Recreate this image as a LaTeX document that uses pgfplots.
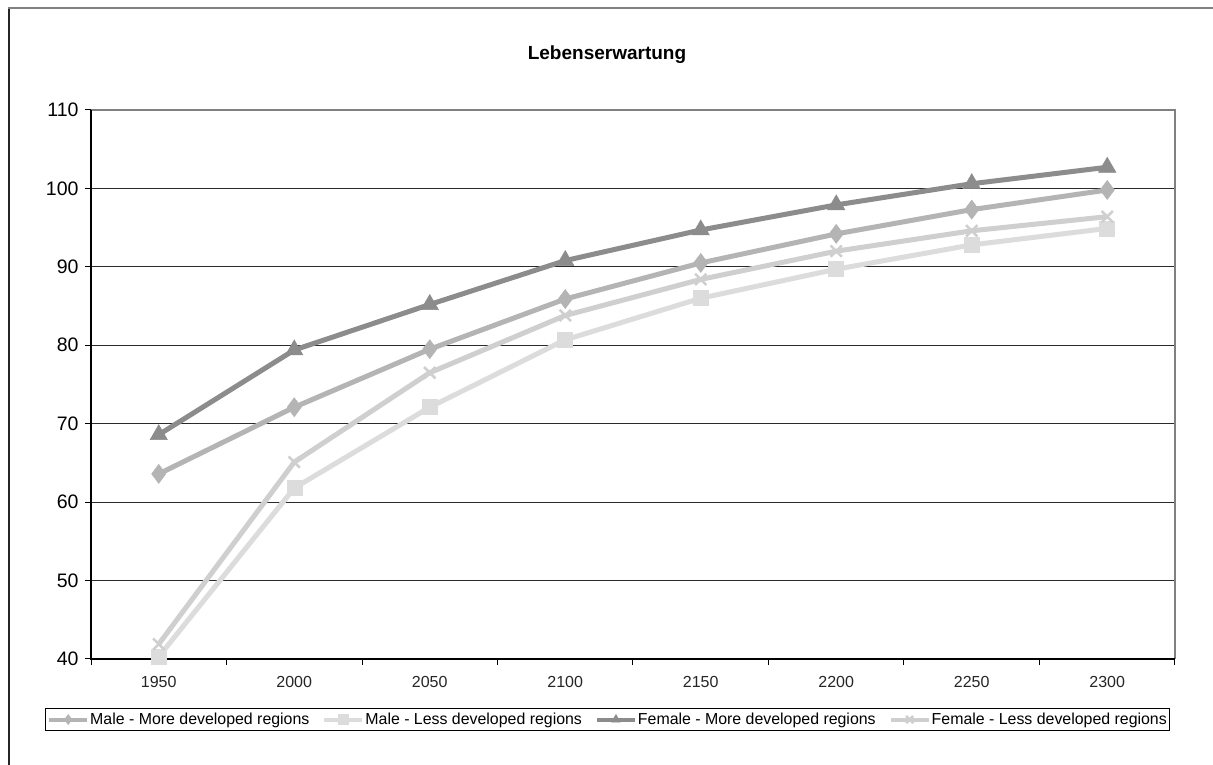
\documentclass[border=0pt]{standalone}
\usepackage{pgfplots}
\pgfplotsset{compat=1.18}
\usepackage{fontspec}
\setmainfont{Liberation Sans}
\definecolor{cFM}{HTML}{8C8C8C}
\definecolor{cMM}{HTML}{B4B4B4}
\definecolor{cFL}{HTML}{CFCFCF}
\definecolor{cML}{HTML}{DCDCDC}
\definecolor{gridc}{HTML}{2A2A2A}
\begin{document}
\begin{tikzpicture}[x=1pt,y=1pt]
\useasboundingbox (0,0) rectangle (1213,765);
\fill[white] (0,0) rectangle (1213,765);
\draw[line width=2pt, color=black!85] (9,0) -- (9,757);
\draw[line width=2.5pt, color=black!50] (8,757) -- (1213,757);
\node[font=\bfseries\fontsize{19}{22}\selectfont] at (607,710) {Lebenserwartung};
\begin{axis}[
  at={(91pt,106pt)}, anchor=south west, scale only axis,
  width=1084pt, height=549pt,
  xmin=-0.5, xmax=7.5, ymin=40, ymax=110,
  ytick={40,50,...,110},
  xtick={0,...,7},
  xticklabels={1950,2000,2050,2100,2150,2200,2250,2300},
  minor xtick={-0.5,0.5,...,7.5},
  xtick pos=bottom, ytick pos=left,
  major x tick style={draw=none},
  minor x tick style={black, line width=1pt},
  y tick style={black, line width=1pt},
  tick align=outside,
  major tick length=6pt, minor tick length=6pt,
  ymajorgrids, grid style={gridc, line width=1pt},
  axis line style={draw=none},
  clip=false,
  /pgf/number format/assume math mode=true,
  yticklabel style={font=\fontsize{19.5}{22}\selectfont, xshift=-3pt},
  xticklabel style={font=\fontsize{16}{19}\selectfont, color=black!85, yshift=-8pt},
  legend columns=4,
  legend style={at={(0.4765,-0.0893)}, anchor=north, draw=black, line width=1pt,
    font=\fontsize{15.9}{18}\selectfont, inner xsep=2pt, inner ysep=2.5pt,
    nodes={inner xsep=1pt},
    /tikz/every even column/.append style={column sep=12pt}},
  legend cell align=left,
  legend image code/.code={\draw[#1, line width=4pt, mark size=5pt, mark repeat=2, mark phase=2] plot coordinates {(0pt,0pt) (19pt,0pt) (38pt,0pt)};},
  every axis plot/.append style={line width=5pt},
]
\draw[black!50, line width=1.5pt] (rel axis cs:0,1) -- (rel axis cs:1,1) -- (rel axis cs:1,0);
\draw[black, line width=1.5pt] (rel axis cs:0,1) -- (rel axis cs:0,0) -- (rel axis cs:1,0);

\addplot[cMM, mark=diamond*, mark size=9.5pt, mark options={solid, line width=0.5pt}] coordinates {
 (0,63.6) (1,72.1) (2,79.5) (3,85.9) (4,90.5) (5,94.2) (6,97.3) (7,99.8)};
\addlegendentry{Male - More developed regions}
\addplot[cML, mark=square*, mark size=7.5pt, mark options={solid, line width=0.5pt}] coordinates {
 (0,40.3) (1,61.8) (2,72.1) (3,80.7) (4,86.0) (5,89.7) (6,92.8) (7,94.9)};
\addlegendentry{Male - Less developed regions}
\addplot[cFM, mark=triangle*, mark size=10pt, mark options={solid, line width=0.5pt}] coordinates {
 (0,68.6) (1,79.4) (2,85.2) (3,90.8) (4,94.7) (5,97.9) (6,100.6) (7,102.7)};
\addlegendentry{Female - More developed regions}
\addplot[cFL, mark=x, mark size=8pt, mark options={solid, line width=2.5pt}] coordinates {
 (0,41.9) (1,65.1) (2,76.5) (3,83.8) (4,88.4) (5,92.0) (6,94.6) (7,96.4)};
\addlegendentry{Female - Less developed regions}
\end{axis}
\end{tikzpicture}
\end{document}
